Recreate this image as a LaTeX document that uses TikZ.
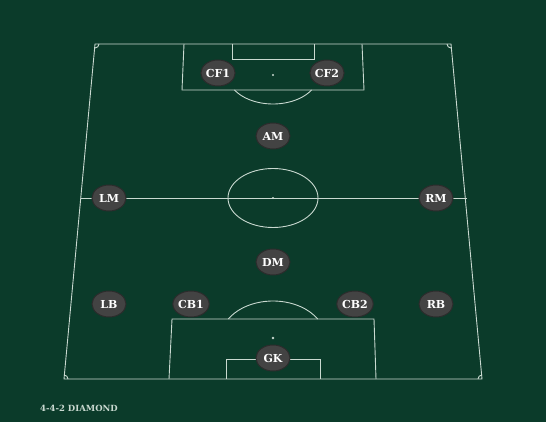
\documentclass[tikz,border=0pt]{standalone}
\usepackage{fontspec}
\setmainfont{DejaVu Serif}
\usepackage{tikz}
\usetikzlibrary{shapes.geometric}
\definecolor{pitch}{HTML}{0B3B2A}
\definecolor{chalk}{HTML}{C9D9D0}
\definecolor{shirt}{HTML}{434343}
\definecolor{shirtedge}{HTML}{2C2C2C}
\tikzstyle{line}=[draw=chalk,line width=0.9pt]
\tikzstyle{player}=[ellipse,draw=shirtedge,fill=shirt,line width=1pt,text=white,minimum width=34pt,minimum height=26pt,inner sep=0pt,font=\bfseries\fontsize{11}{12}\selectfont]

\begin{document}
\begin{tikzpicture}[x=1pt,y=-1pt]
\fill[pitch] (0,0) rectangle (546,422);
\useasboundingbox (0,0) rectangle (546,422);
% pitch outline
\coordinate (tl) at (95,44);
\coordinate (tr) at (451,44);
\coordinate (br) at (482,379);
\coordinate (bl) at (64,379);
\draw[line] (tl) -- (tr) -- (br) -- (bl) -- cycle;
\draw[line] (80.5,198) -- (466.5,198);
% corners
\draw[line] (tl) ++(4,0) arc[start angle=0, end angle=90, radius=4];
\draw[line] (tr) ++(0,4) arc[start angle=90, end angle=180, radius=4];
\draw[line] (bl) ++(0,-4) arc[start angle=270, end angle=360, radius=4];
\draw[line] (br) ++(-4,0) arc[start angle=180, end angle=270, radius=4];
% centre
\draw[line] (273,198) ellipse[x radius=45, y radius=29.5];
\fill[chalk] (273,198) circle (1.1);
% top end
\draw[line] (184,44) -- (182,90) -- (364,90) -- (362,44);
\draw[line] (232,44) -- (232,59) -- (314,59) -- (314,44);
\draw[line] (273,75) ++(31:45 and 29) arc[start angle=31, end angle=149, x radius=45, y radius=29];
\fill[chalk] (273,75) circle (1.2);
% bottom end
\draw[line] (169,379) -- (172,319) -- (374,319) -- (376,379);
\draw[line] (226,379) -- (226,359) -- (320,359) -- (320,379);
\draw[line] (273,338) ++(211:52 and 37) arc[start angle=211, end angle=329, x radius=52, y radius=37];
\fill[chalk] (273,338) circle (1.3);
% players
\node[player] (cf1) at (218,73) {CF1};
\node[player] (cf2) at (327,73) {CF2};
\node[player] (am) at (273,136) {AM};
\node[player] (lm) at (109,198) {LM};
\node[player] (rm) at (436,198) {RM};
\node[player] (dm) at (273,262) {DM};
\node[player] (lb) at (109,304) {LB};
\node[player] (cb1) at (191,304) {CB1};
\node[player] (cb2) at (355,304) {CB2};
\node[player] (rb) at (436,304) {RB};
\node[player] (gk) at (273,358) {GK};
% formation name
\node[anchor=west,text=chalk,inner sep=0pt,font=\bfseries\fontsize{8.5}{10}\selectfont] (title) at (40,408.5) {4-4-2 DIAMOND};
\end{tikzpicture}
\end{document}
